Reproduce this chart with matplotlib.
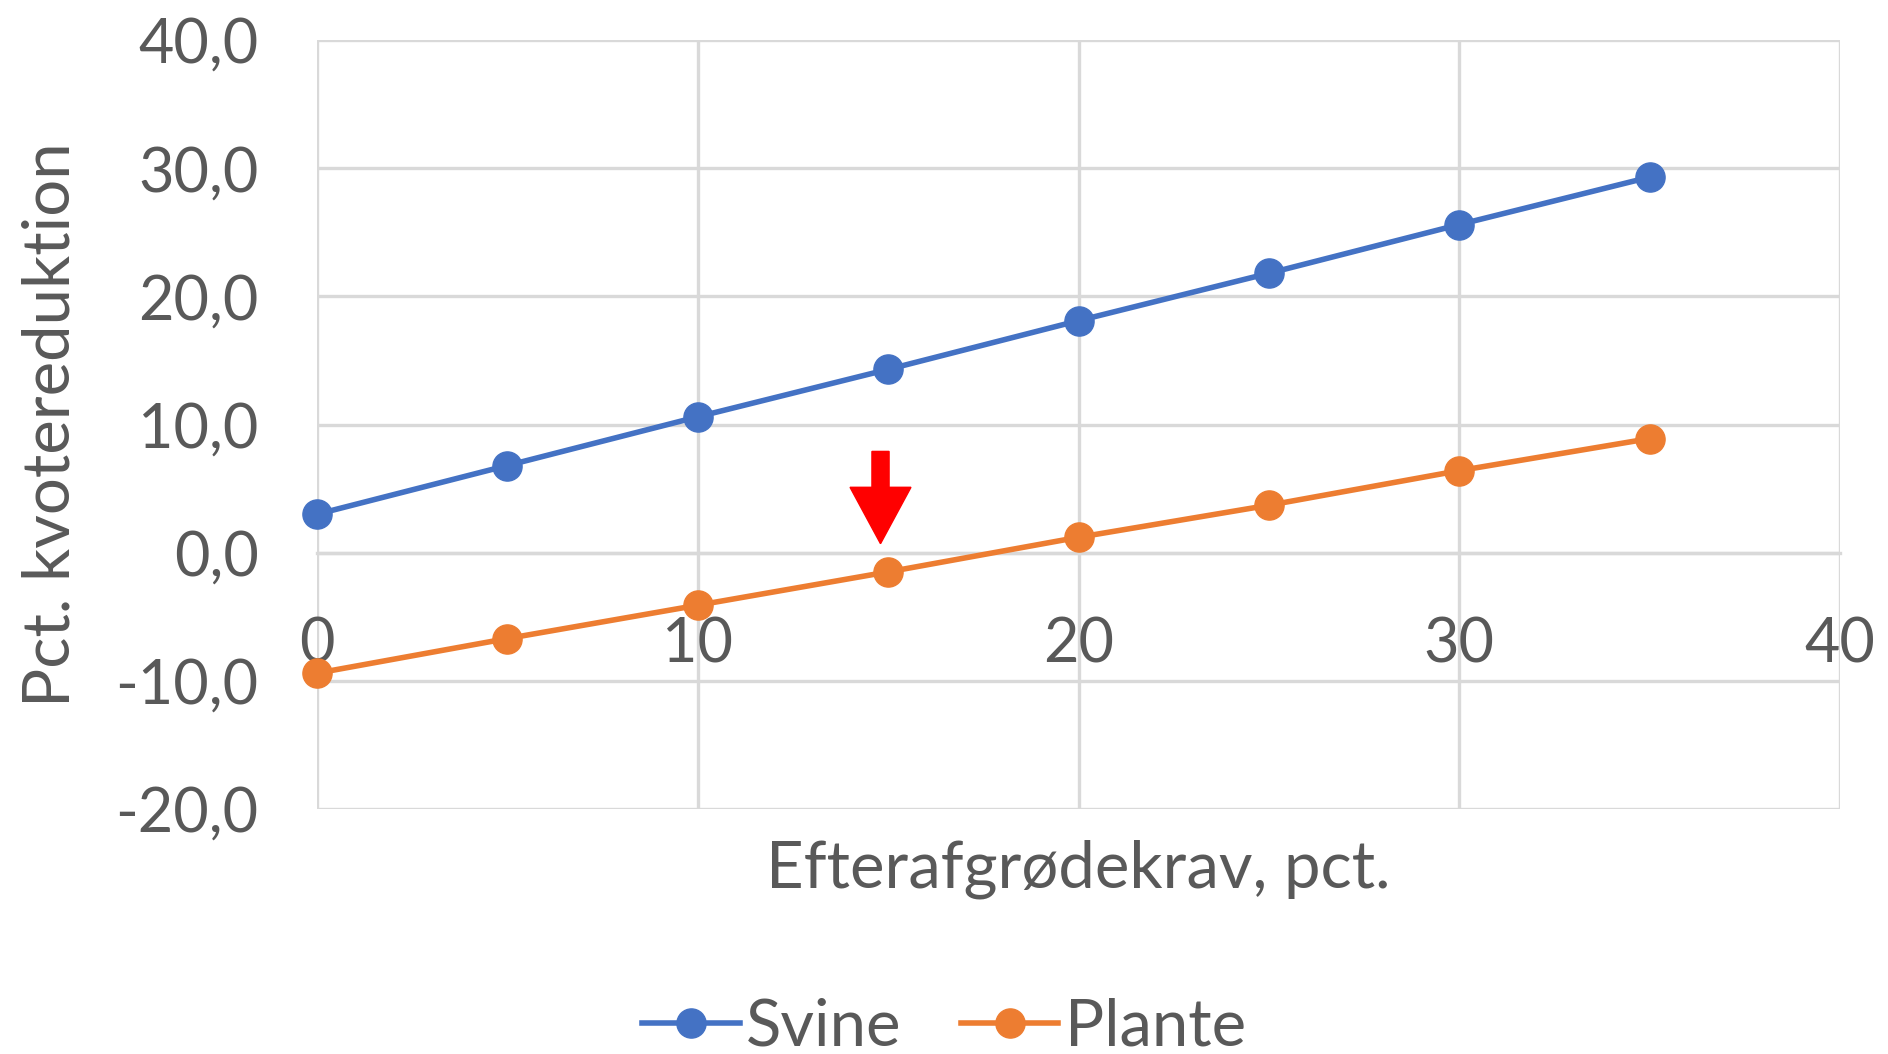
import matplotlib
matplotlib.use("Agg")
import matplotlib.pyplot as plt
from matplotlib.patches import FancyArrow

# Data
x_vals = [0, 5, 10, 15, 20, 25, 30, 35]
svine = [3.0, 6.8, 10.6, 14.3, 18.1, 21.8, 25.6, 29.3]
plante = [-9.4, -6.7, -4.1, -1.5, 1.2, 3.7, 6.4, 8.9]
series_names = ["Svine", "Plante"]
x_ticks = [0, 10, 20, 30, 40]
y_ticks = [-20, -10, 0, 10, 20, 30, 40]
y_tick_labels = ["-20,0", "-10,0", "0,0", "10,0", "20,0", "30,0", "40,0"]
arrow_x = 14.8
arrow_top = 7.9
arrow_tip = 0.7

plt.rcParams['font.family'] = ['Lato', 'DejaVu Sans']
txt = '#595959'
grid = '#D9D9D9'

fig = plt.figure(figsize=(18.88, 10.54), dpi=100)
ax = fig.add_axes([317/1888, 245/1054, (1840-317)/1888, (809-40)/1054])

ax.set_xlim(0, 40)
ax.set_ylim(-20, 40)
ax.set_xticks(x_ticks)
ax.set_yticks(y_ticks)
ax.set_yticklabels(y_tick_labels)
ax.grid(True, color=grid, linewidth=2.4)
ax.set_axisbelow(True)
for s in ['top', 'right', 'left']:
    ax.spines[s].set_visible(False)
ax.spines['bottom'].set_position(('data', 0))
ax.spines['bottom'].set_color(grid)
ax.spines['bottom'].set_linewidth(2.4)
ax.tick_params(axis='both', length=0, labelsize=44, labelcolor=txt)
ax.tick_params(axis='x', pad=46)
ax.tick_params(axis='y', pad=42)

ax.plot(x_vals, svine, color='#4472C4', lw=4, marker='o', ms=21,
        label=series_names[0], clip_on=False, zorder=3)
ax.plot(x_vals, plante, color='#ED7D31', lw=4, marker='o', ms=21,
        label=series_names[1], clip_on=False, zorder=3)

arr = FancyArrow(arrow_x, arrow_top, 0, arrow_tip - arrow_top, width=0.45,
                 head_width=1.6, head_length=4.4, length_includes_head=True,
                 color='red', zorder=4)
ax.add_patch(arr)

ax.set_ylabel("Pct. kvotereduktion", fontsize=47, color=txt)
ax.yaxis.set_label_coords(-0.155, 0.5)
ax.set_xlabel("Efterafgrødekrav, pct.", fontsize=47, color=txt)
ax.xaxis.set_label_coords(0.5, -0.04)

fig.legend(loc='center', bbox_to_anchor=(0.5, 27/1054), ncol=2, frameon=False,
           fontsize=47, labelcolor=txt, handlelength=1.5, handletextpad=0.1,
           columnspacing=0.9)

fig.savefig("out.png", dpi=100)
